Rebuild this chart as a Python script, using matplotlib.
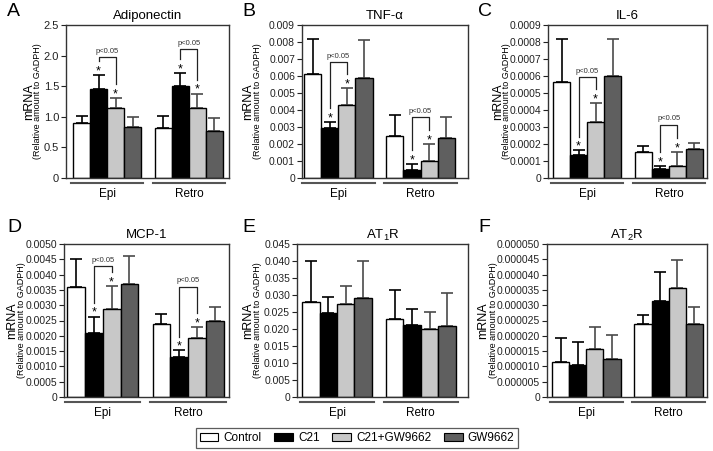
import matplotlib
matplotlib.use('Agg')
import matplotlib.pyplot as plt
import matplotlib.transforms as mtransforms
from matplotlib.patches import Patch
import numpy as np

plt.rcParams['font.family'] = ['Liberation Sans', 'DejaVu Sans']
plt.rcParams['mathtext.fontset'] = 'custom'
plt.rcParams['mathtext.rm'] = 'Liberation Sans'

groups = ['Epi', 'Retro']
treatments = ['Control', 'C21', 'C21+GW9662', 'GW9662']

# bar heights, order: Epi (Control, C21, C21+GW9662, GW9662), then Retro (same order)
# *_top = upper end of the error bar
adipo_mean = [0.90, 1.46, 1.15, 0.84, 0.82, 1.51, 1.15, 0.77]
adipo_top = [1.02, 1.68, 1.31, 0.99, 1.01, 1.72, 1.38, 0.98]
adipo_bracket = [1.98, 2.10]

tnf_mean = [0.0061, 0.00297, 0.0043, 0.0059, 0.00247, 0.00049, 0.0010, 0.00237]
tnf_top = [0.0082, 0.0033, 0.0053, 0.0081, 0.00368, 0.00082, 0.0020, 0.00358]
tnf_bracket = [0.0068, 0.00358]

il6_mean = [0.000565, 0.000134, 0.00033, 0.0006, 0.000151, 0.000053, 0.000073, 0.00017]
il6_top = [0.00082, 0.000163, 0.00044, 0.00082, 0.00019, 0.000073, 0.000155, 0.000208]
il6_bracket = [0.000595, 0.000314]

mcp_mean = [0.0036, 0.0021, 0.00288, 0.0037, 0.00237, 0.0013, 0.00192, 0.00249]
mcp_top = [0.00452, 0.00263, 0.00362, 0.00462, 0.00272, 0.00152, 0.0023, 0.00293]
mcp_bracket = [0.00429, 0.00361]

at1r_mean = [0.028, 0.0248, 0.0275, 0.029, 0.0230, 0.0213, 0.0199, 0.0210]
at1r_top = [0.040, 0.0294, 0.0326, 0.040, 0.0316, 0.0258, 0.0250, 0.0307]

at2r_mean = [0.0000115, 0.0000106, 0.0000158, 0.0000124, 0.0000237, 0.0000315, 0.0000355, 0.000024]
at2r_top = [0.0000193, 0.0000179, 0.000023, 0.0000203, 0.0000268, 0.000041, 0.0000447, 0.0000293]

bar_colors = ['white', 'black', '#c8c8c8', '#5f5f5f']
err_colors = ['black', 'black', '#4a4a4a', '#4a4a4a']
x = [0, 1, 2, 3, 4.8, 5.8, 6.8, 7.8]

W, H = 713, 451
fig = plt.figure(figsize=(W / 100, H / 100), dpi=100)


def rect(l, t, r, b):
    return [l / W, 1 - b / H, (r - l) / W, (b - t) / H]


panels = [
    dict(letter='A', title='Adiponectin', mean=adipo_mean, top=adipo_top, br=adipo_bracket,
         ymax=2.5, nstep=5, dec=1, box=(66, 25, 229, 178), marg=(7, 6), ylab=(37, 28), fs=8, lpos=(7, 12)),
    dict(letter='B', title='TNF-α', mean=tnf_mean, top=tnf_top, br=tnf_bracket,
         ymax=0.009, nstep=9, dec=3, box=(302, 25, 468, 178), marg=(2, 13), ylab=(54, 44), fs=7.5, lpos=(242, 12)),
    dict(letter='C', title='IL-6', mean=il6_mean, top=il6_top, br=il6_bracket,
         ymax=0.0009, nstep=9, dec=4, box=(548, 25, 707, 178), marg=(5, 4), ylab=(50, 41), fs=7.5, lpos=(478, 12)),
    dict(letter='D', title='MCP-1', mean=mcp_mean, top=mcp_top, br=mcp_bracket,
         ymax=0.005, nstep=10, dec=4, box=(64, 244, 229, 397), marg=(3, 5), ylab=(52, 42), fs=7.5, lpos=(7, 228)),
    dict(letter='E', title=r'AT$_\mathregular{1}$R', mean=at1r_mean, top=at1r_top, br=None,
         ymax=0.045, nstep=9, dec=3, box=(297, 244, 468, 397), marg=(5, 12), ylab=(49, 39), fs=7.5, lpos=(242, 228)),
    dict(letter='F', title=r'AT$_\mathregular{2}$R', mean=at2r_mean, top=at2r_top, br=None,
         ymax=0.00005, nstep=10, dec=6, box=(547, 244, 707, 397), marg=(5, 4), ylab=(64, 54), fs=7.5, lpos=(478, 228)),
]

for p in panels:
    ax = fig.add_axes(rect(*p['box']))
    ymax = p['ymax']
    ax.bar(x, p['mean'], width=1.0, color=bar_colors * 2, edgecolor='black', linewidth=1, zorder=2)
    for i, (xi, m, t) in enumerate(zip(x, p['mean'], p['top'])):
        ax.errorbar(xi, m, yerr=[[0], [t - m]], fmt='none', ecolor=err_colors[i % 4],
                    elinewidth=1.2, capsize=4.5, capthick=1.2, zorder=1)

    if p['br'] is not None:
        for g in range(2):
            i1, i2 = 4 * g + 1, 4 * g + 2
            for i in (i1, i2):
                ax.text(x[i], p['top'][i] + 0.004 * ymax, '*', ha='center', va='baseline',
                        fontsize=9, zorder=3)
            bt = p['br'][g]
            ax.plot([x[i1], x[i1], x[i2], x[i2]],
                    [p['top'][i1] + 0.09 * ymax, bt, bt, p['top'][i2] + 0.09 * ymax],
                    color='#222222', lw=0.9)
            ax.text((x[i1] + x[i2]) / 2, bt + 0.014 * ymax, 'p<0.05', ha='center', va='bottom',
                    fontsize=5.5, color='#333333')

    lm, rm = p['marg']
    ax.set_xlim(-0.5 - lm / 17, 8.3 + rm / 17)
    ax.set_ylim(0, ymax)
    ticks = np.linspace(0, ymax, p['nstep'] + 1)
    ax.set_yticks(ticks)
    ax.set_yticklabels(['0'] + [f'{v:.{p["dec"]}f}' for v in ticks[1:]], fontsize=p['fs'])
    ax.set_xticks([1.5, 6.3])
    ax.set_xticklabels(groups, fontsize=8.5)
    ax.tick_params(axis='x', length=0, pad=7)
    ax.tick_params(axis='y', direction='out', length=3.5, width=0.8, pad=1.5, colors='#222222')
    for s in ax.spines.values():
        s.set_color('#333333')
        s.set_linewidth(1)
    ax.set_title(p['title'], fontsize=9.5, pad=4)

    # group underlines
    trans = mtransforms.blended_transform_factory(ax.transData, ax.transAxes)
    for a, b in [(-0.62, 3.62), (4.18, 8.42)]:
        ax.plot([a, b], [-0.033, -0.033], transform=trans, clip_on=False, color='#555555', lw=1.5)

    # y labels
    l, t, r, b = p['box']
    yc = 1 - (t + b) / 2 / H
    fig.text((l - p['ylab'][0]) / W, yc, 'mRNA', rotation=90, ha='center', va='center', fontsize=9)
    fig.text((l - p['ylab'][1]) / W, yc, '(Relative amount to GADPH)', rotation=90,
             ha='center', va='center', fontsize=6.5)

    fig.text(p['lpos'][0] / W, 1 - p['lpos'][1] / H, p['letter'], fontsize=14, ha='left', va='center')

handles = [Patch(facecolor=c, edgecolor='black', linewidth=0.8) for c in bar_colors]
leg = fig.legend(handles, treatments, loc='center', bbox_to_anchor=(357 / W, 1 - 438 / H), ncol=4,
                 fontsize=8.5, frameon=True, fancybox=False, handlelength=1.6, handleheight=0.6,
                 handletextpad=0.4, columnspacing=1.1, borderpad=0.3)
leg.get_frame().set_edgecolor('#333333')
leg.get_frame().set_linewidth(0.9)

fig.savefig('out.png', dpi=100)
